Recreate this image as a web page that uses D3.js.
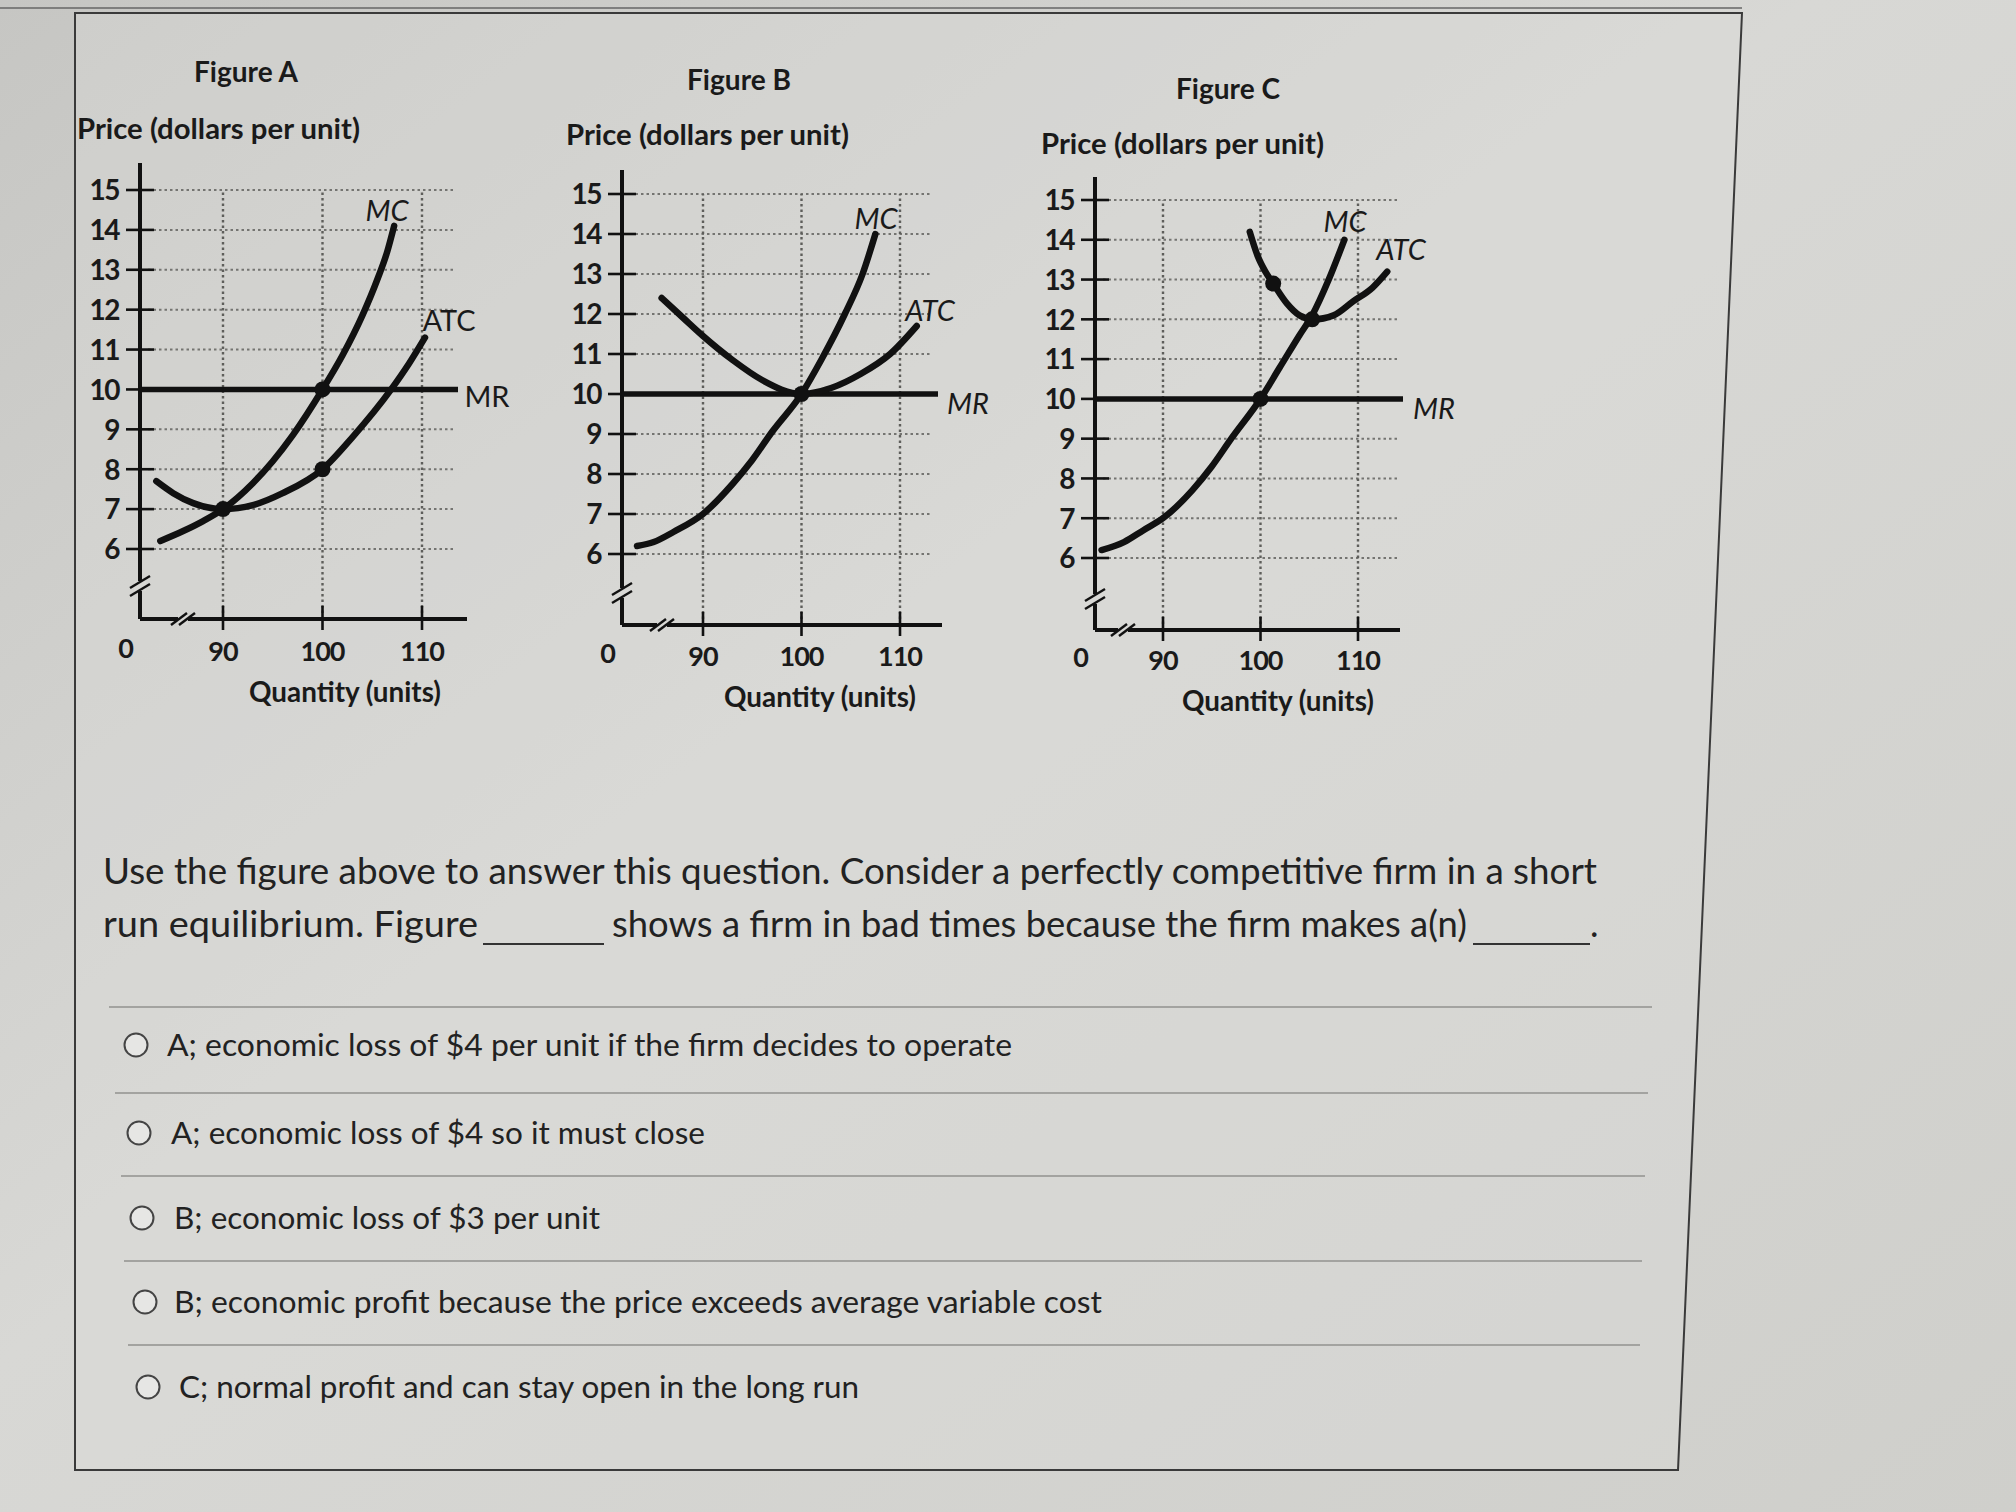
<!DOCTYPE html>
<html><head><meta charset="utf-8">
<script src="https://cdn.jsdelivr.net/npm/d3@7"></script>
<style>
html,body{margin:0;padding:0;background:#d6d6d3;}
svg{display:block;}
</style></head>
<body>
<svg id="chart" width="2016" height="1512"></svg>
<script>
// ---------------- DATA ----------------
const panelNames = ["A", "B", "C"];
const yTicks = [6, 7, 8, 9, 10, 11, 12, 13, 14, 15];
const xTicks = [90, 100, 110];
const mrPrice = 10;

const mcA  = [[83.7,6.2],[86,6.45],[88,6.7],[90,7.0],[93,7.65],[95,8.2],[97,8.85],[100,10],[102,10.85],[104,11.85],[105.5,12.75],[106.5,13.45],[107.2,14.1]];
const atcA = [[83.3,7.7],[85,7.4],[87,7.15],[90,7.0],[93,7.1],[96,7.4],[100,8.0],[103,8.8],[106.9,10],[108.7,10.65],[110.3,11.3]];
const dotsA = [[90,7],[100,10],[100,8]];

const mcB  = [[83.3,6.2],[85,6.3],[87,6.55],[90,7.0],[93,7.75],[95,8.35],[97,9.05],[100,10],[102,10.85],[104.4,12],[106.2,13],[107.5,14]];
const atcB = [[85.8,12.4],[88,11.9],[90,11.45],[93,10.85],[96,10.35],[100,10.0],[103,10.15],[106,10.5],[109,11.0],[111.7,11.7]];
const dotsB = [[100,10]];

const mcC  = [[83.7,6.2],[86,6.4],[88,6.7],[90,7.0],[93,7.7],[95,8.3],[97,9.0],[100,10],[102,10.8],[104,11.6],[105.3,12.1],[107,13],[108.6,14]];
const atcC = [[98.9,14.2],[99.7,13.6],[100.5,13.2],[101.3,12.9],[102.7,12.4],[104,12.1],[105.4,12.0],[107.5,12.1],[109.5,12.45],[111.5,12.8],[113,13.2]];
const dotsC = [[101.3,12.9],[100,10],[105.3,12]];

const curveLabels = ["MC", "ATC", "MR"];
const titleText = "Figure ";
const yAxisTitle = "Price (dollars per unit)";
const xAxisTitle = "Quantity (units)";

const questionLine1 = "Use the figure above to answer this question. Consider a perfectly competitive firm in a short";
const questionLine2a = "run equilibrium. Figure";
const questionLine2b = "shows a firm in bad times because the firm makes a(n)";
const options = [
  "A; economic loss of $4 per unit if the firm decides to operate",
  "A; economic loss of $4 so it must close",
  "B; economic loss of $3 per unit",
  "B; economic profit because the price exceeds average variable cost",
  "C; normal profit and can stay open in the long run"
];

// ---------------- LAYOUT ----------------
const seriesByPanel = {
  A: {mc: mcA, atc: atcA, dots: dotsA},
  B: {mc: mcB, atc: atcB, dots: dotsB},
  C: {mc: mcC, atc: atcC, dots: dotsC}
};
const layout = {
  A: {ax:140, xr:[223,422], yr:[549,190], axisY:619, axisTop:163, xEnd:467, gridEnd:453, mrEnd:458,
      title:[246,82], price:[77,139], qty:[345,702], tickY:651, yBreak:586, xBreak:183,
      lab:{MC:[387,210,true], ATC:[449,320,false], MR:[487,396,false]}},
  B: {ax:622, xr:[703,900], yr:[554,194], axisY:625, axisTop:170, xEnd:942, gridEnd:932, mrEnd:938,
      title:[739,90], price:[566,145], qty:[820,707], tickY:656, yBreak:593, xBreak:662,
      lab:{MC:[876,218,true], ATC:[930,310,true], MR:[968,403,true]}},
  C: {ax:1095, xr:[1163,1358], yr:[558,200], axisY:630, axisTop:177, xEnd:1400, gridEnd:1400, mrEnd:1403,
      title:[1228,99], price:[1041,154], qty:[1278,711], tickY:660, yBreak:599, xBreak:1123,
      lab:{MC:[1345,221,true], ATC:[1401,249,true], MR:[1434,408,true]}}
};

const svg = d3.select("#chart");
const defs = svg.append("defs");
const bg = defs.append("linearGradient").attr("id","bg").attr("x1","0").attr("y1","0").attr("x2","1").attr("y2","1");
bg.append("stop").attr("offset","0").attr("stop-color","#c6c6c3");
bg.append("stop").attr("offset","0.45").attr("stop-color","#d8d8d5");
bg.append("stop").attr("offset","1").attr("stop-color","#cfcfcb");
svg.append("rect").attr("width",2016).attr("height",1512).attr("fill","url(#bg)");

// page frame
svg.append("path")
  .attr("d","M75,13 L1742,13 L1678,1470 L75,1470 Z")
  .attr("fill","#dcdcd9").attr("fill-opacity",0.35)
  .attr("stroke","#3a3a3a").attr("stroke-width",2);
svg.append("line").attr("x1",0).attr("x2",1742).attr("y1",8).attr("y2",8).attr("stroke","#666").attr("stroke-width",1.5);

const chartFont = "Lato, 'Open Sans', sans-serif";
const ink = "#111";

panelNames.forEach(name => {
  const L = layout[name], S = seriesByPanel[name];
  const x = d3.scaleLinear().domain([90,110]).range(L.xr);
  const y = d3.scaleLinear().domain([6,15]).range(L.yr);
  const g = svg.append("g");

  // dotted grid
  g.selectAll(".hg").data(yTicks.filter(v => v !== mrPrice)).enter().append("line")
    .attr("x1", L.ax + 8).attr("x2", L.gridEnd)
    .attr("y1", d => y(d)).attr("y2", d => y(d))
    .attr("stroke","#747471").attr("stroke-width",2).attr("stroke-dasharray","2.5,3");
  g.selectAll(".vg").data(xTicks).enter().append("line")
    .attr("x1", d => x(d)).attr("x2", d => x(d))
    .attr("y1", L.axisY - 6).attr("y2", y(15))
    .attr("stroke","#5e5e5b").attr("stroke-width",2.4).attr("stroke-dasharray","2.5,3");

  // y axis
  g.append("line").attr("x1",L.ax).attr("x2",L.ax).attr("y1",L.axisTop).attr("y2",L.axisY)
    .attr("stroke",ink).attr("stroke-width",4);
  // x axis
  g.append("line").attr("x1",L.ax).attr("x2",L.xEnd).attr("y1",L.axisY).attr("y2",L.axisY)
    .attr("stroke",ink).attr("stroke-width",4);
  // axis breaks
  g.append("rect").attr("x",L.ax-6).attr("y",L.yBreak-5).attr("width",12).attr("height",10).attr("fill","#d8d8d5");
  [-4,4].forEach(o => g.append("line")
    .attr("x1",L.ax-10).attr("y1",L.yBreak+o+6).attr("x2",L.ax+10).attr("y2",L.yBreak+o-6)
    .attr("stroke",ink).attr("stroke-width",2.4));
  g.append("rect").attr("x",L.xBreak-5).attr("y",L.axisY-6).attr("width",10).attr("height",12).attr("fill","#d8d8d5");
  [-4,4].forEach(o => g.append("line")
    .attr("x1",L.xBreak+o-8).attr("y1",L.axisY+6).attr("x2",L.xBreak+o+8).attr("y2",L.axisY-6)
    .attr("stroke",ink).attr("stroke-width",2.4));

  // ticks
  g.selectAll(".yt").data(yTicks).enter().append("line")
    .attr("x1",L.ax-14).attr("x2",L.ax+14).attr("y1",d=>y(d)).attr("y2",d=>y(d))
    .attr("stroke",ink).attr("stroke-width",2.6);
  g.selectAll(".xt").data(xTicks).enter().append("line")
    .attr("x1",d=>x(d)).attr("x2",d=>x(d)).attr("y1",L.axisY-13).attr("y2",L.axisY+11)
    .attr("stroke",ink).attr("stroke-width",2.6);

  // tick labels
  g.selectAll(".yl").data(yTicks).enter().append("text")
    .attr("x",L.ax-21).attr("y",d=>y(d)).attr("dy","0.37em")
    .attr("text-anchor","end").attr("font-family",chartFont).attr("font-weight",700)
    .attr("font-size",28).attr("fill","#1a1a1a").attr("letter-spacing",-1.5)
    .text(d=>d);
  g.selectAll(".xl").data(xTicks).enter().append("text")
    .attr("x",d=>x(d)).attr("y",L.tickY).attr("dy","0.37em")
    .attr("text-anchor","middle").attr("font-family",chartFont).attr("font-weight",700)
    .attr("font-size",27).attr("fill","#1a1a1a").attr("letter-spacing",-1)
    .text(d=>d);
  g.append("text").attr("x",L.ax-14).attr("y",L.tickY-3).attr("dy","0.37em")
    .attr("text-anchor","middle").attr("font-family",chartFont).attr("font-weight",700)
    .attr("font-size",27).attr("fill","#1a1a1a").text("0");

  // titles
  g.append("text").attr("x",L.title[0]).attr("y",L.title[1])
    .attr("text-anchor","middle").attr("font-family",chartFont).attr("font-weight",700)
    .attr("font-size",29).attr("fill","#1a1a1a")
    .attr("textLength",104).attr("lengthAdjust","spacingAndGlyphs").text(titleText + name);
  g.append("text").attr("x",L.price[0]).attr("y",L.price[1])
    .attr("font-family",chartFont).attr("font-weight",700)
    .attr("font-size",29).attr("fill","#1a1a1a")
    .attr("textLength",283).attr("lengthAdjust","spacingAndGlyphs").text(yAxisTitle);
  g.append("text").attr("x",L.qty[0]).attr("y",L.qty[1])
    .attr("text-anchor","middle").attr("font-family",chartFont).attr("font-weight",700)
    .attr("font-size",28).attr("fill","#1a1a1a")
    .attr("textLength",192).attr("lengthAdjust","spacingAndGlyphs").text(xAxisTitle);

  // MR line
  g.append("line").attr("x1",L.ax).attr("x2",L.mrEnd).attr("y1",y(mrPrice)).attr("y2",y(mrPrice))
    .attr("stroke",ink).attr("stroke-width",5.5);

  // curves
  const line = d3.line().x(d=>x(d[0])).y(d=>y(d[1])).curve(d3.curveMonotoneX);
  [S.atc, S.mc].forEach(arr => g.append("path").attr("d",line(arr))
    .attr("fill","none").attr("stroke",ink).attr("stroke-width",6.5).attr("stroke-linecap","round"));

  // dots
  g.selectAll(".dot").data(S.dots).enter().append("circle")
    .attr("cx",d=>x(d[0])).attr("cy",d=>y(d[1])).attr("r",8).attr("fill",ink);

  // curve labels
  curveLabels.forEach(lbl => {
    const p = L.lab[lbl];
    g.append("text").attr("x",p[0]).attr("y",p[1]).attr("dy","0.37em")
      .attr("text-anchor","middle").attr("font-family",chartFont).attr("font-weight",400)
      .attr("font-style",p[2] ? "italic" : "normal")
      .attr("font-size",29).attr("fill","#1a1a1a").text(lbl);
  });
});

// ---------------- QUESTION ----------------
const qFont = "Lato, 'Open Sans', sans-serif";
const qInk = "#222";
svg.append("text").attr("x",103).attr("y",884).attr("font-family",qFont).attr("font-size",36)
  .attr("fill",qInk).attr("textLength",1494).attr("lengthAdjust","spacingAndGlyphs").text(questionLine1);
svg.append("text").attr("x",103).attr("y",937).attr("font-family",qFont).attr("font-size",36)
  .attr("fill",qInk).attr("textLength",375).attr("lengthAdjust","spacingAndGlyphs").text(questionLine2a);
svg.append("text").attr("x",612).attr("y",937).attr("font-family",qFont).attr("font-size",36)
  .attr("fill",qInk).attr("textLength",855).attr("lengthAdjust","spacingAndGlyphs").text(questionLine2b);
svg.append("text").attr("x",1590).attr("y",937).attr("font-family",qFont).attr("font-size",36)
  .attr("fill",qInk).text(".");
[[483,604],[1473,1590]].forEach(b => svg.append("line").attr("x1",b[0]).attr("x2",b[1])
  .attr("y1",944).attr("y2",944).attr("stroke","#333").attr("stroke-width",2));

// separators
const sepY = [1007, 1093, 1176, 1261, 1345];
const sepX0 = [109, 115, 121, 124, 128];
const sepX1 = [1652, 1648, 1645, 1642, 1640];
sepY.forEach((yy,i) => svg.append("line").attr("x1",sepX0[i]).attr("x2",sepX1[i])
  .attr("y1",yy).attr("y2",yy).attr("stroke","#a3a3a0").attr("stroke-width",2));

// options
const optY = [1045, 1133, 1218, 1302, 1387];
const optCx = [136, 139, 142, 145, 148];
const optTx = [167, 171, 174, 174, 179];
const optW = [845, 534, 426, 928, 680];
options.forEach((t,i) => {
  svg.append("circle").attr("cx",optCx[i]).attr("cy",optY[i]).attr("r",11.5)
    .attr("fill","#e6e6e4").attr("stroke","#444").attr("stroke-width",2);
  svg.append("text").attr("x",optTx[i]).attr("y",optY[i]).attr("dy","0.36em")
    .attr("font-family",qFont).attr("font-size",31).attr("fill",qInk)
    .attr("textLength",optW[i]).attr("lengthAdjust","spacingAndGlyphs").text(t);
});
</script>
</body></html>
